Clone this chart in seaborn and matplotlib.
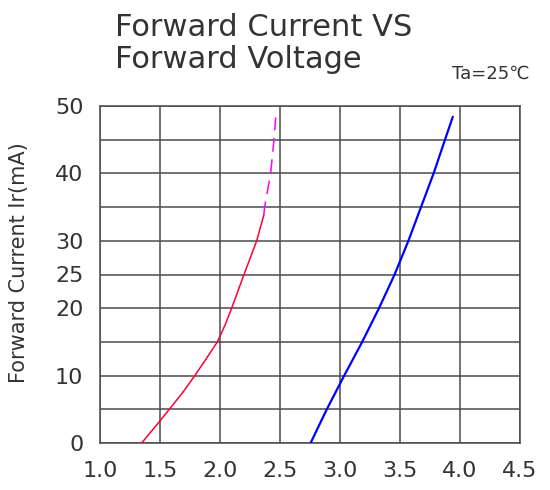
import numpy as np
import pandas as pd
import matplotlib
matplotlib.use("Agg")
import matplotlib.pyplot as plt
import seaborn as sns

# curve readings (forward voltage V, forward current mA)
red_v = [1.347, 1.472, 1.578, 1.694, 1.79, 1.889, 1.978, 2.042, 2.097, 2.20, 2.306, 2.365]
red_i = [0, 2.67, 5, 7.6, 10, 12.6, 15, 17.5, 20, 25, 30, 33.8]
pink_v = [2.365, 2.372, 2.422, 2.45, 2.464]
pink_i = [33.8, 35, 40, 45, 48.3]
blue_v = [2.755, 2.89, 3.035, 3.185, 3.325, 3.455, 3.57, 3.675, 3.78, 3.875, 3.94]
blue_i = [0, 5, 10, 15, 20, 25, 30, 35, 40, 45, 48.4]

x_ticks = [1.0, 1.5, 2.0, 2.5, 3.0, 3.5, 4.0, 4.5]
y_ticks = [0, 10, 20, 25, 30, 40, 50]
y_grid = [0, 5, 10, 15, 20, 25, 30, 35, 40, 45, 50]

sns.set_theme(style="white")
plt.rcParams['font.family'] = ['DejaVu Sans']

fig = plt.figure(figsize=(5.5, 4.9), dpi=100)
ax = fig.add_axes([100/550, 47/490, 420/550, 337/490])

# grid drawn by hand so every 5 mA gets a line
for v in x_ticks:
    ax.axvline(v, color='#4a4a4a', lw=1.1, zorder=1)
for i in y_grid:
    ax.axhline(i, color='#4a4a4a', lw=1.1, zorder=1)

red = pd.DataFrame({'V': red_v, 'I': red_i})
pink = pd.DataFrame({'V': pink_v, 'I': pink_i})
blue = pd.DataFrame({'V': blue_v, 'I': blue_i})

sns.lineplot(data=red, x='V', y='I', color='#ff0033', lw=1.1, sort=False, estimator=None, ax=ax, zorder=3)
sns.lineplot(data=pink, x='V', y='I', color='#ff00ff', lw=1.1, sort=False, estimator=None,
             linestyle=(0, (9, 5)), ax=ax, zorder=3)
sns.lineplot(data=blue, x='V', y='I', color='#0000ff', lw=1.6, sort=False, estimator=None, ax=ax, zorder=3)

ax.set_xlim(1.0, 4.5)
ax.set_ylim(0, 50)
ax.set_xticks(x_ticks)
ax.set_xticklabels([f"{v:.1f}" for v in x_ticks], fontsize=16, color='#333333')
ax.set_yticks(y_ticks)
ax.set_yticklabels([str(v) for v in y_ticks], fontsize=16, color='#333333')
ax.tick_params(axis='x', length=0, pad=13)
ax.tick_params(axis='y', length=0, pad=12)
ax.set_xlabel('')
ax.set_ylabel('')
for s in ax.spines.values():
    s.set_color('#4a4a4a')
    s.set_linewidth(1.1)

fig.text(0.035, 0.465, 'Forward Current Ir(mA)', rotation=90, ha='center', va='center',
         fontsize=15, color='#333333')
fig.text(115/550, 1 - 27/490, 'Forward Current VS', ha='left', va='center', fontsize=22, color='#333333')
fig.text(115/550, 1 - 60/490, 'Forward Voltage', ha='left', va='center', fontsize=22, color='#333333')
fig.text(452/550, 1 - 74/490, 'Ta=25℃', ha='left', va='center', fontsize=13, color='#333333')

fig.savefig('out.png', dpi=100, facecolor='white')
